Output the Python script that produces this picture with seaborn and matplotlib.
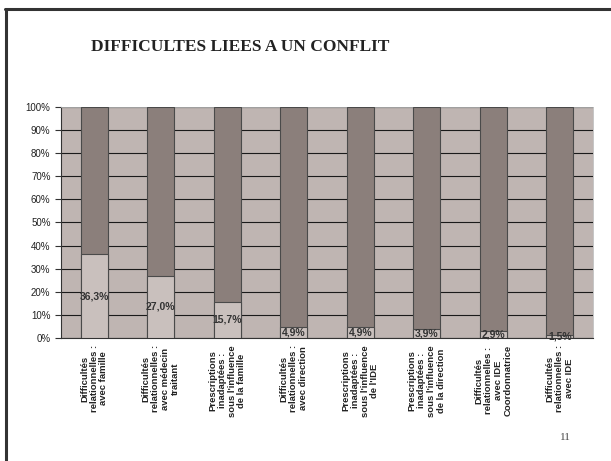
import numpy as np
import pandas as pd
import seaborn as sns
import matplotlib.pyplot as plt
from matplotlib.lines import Line2D
from matplotlib.ticker import MultipleLocator, FixedLocator

categories = [
    "Difficultés\nrelationnelles :\navec famille",
    "Difficultés\nrelationnelles :\navec médecin\ntraitant",
    "Prescriptions\ninadaptées :\nsous l'influence\nde la famille",
    "Difficultés\nrelationnelles :\navec direction",
    "Prescriptions\ninadaptées :\nsous l'influence\nde l'IDE",
    "Prescriptions\ninadaptées :\nsous l'influence\nde la direction",
    "Difficultés\nrelationnelles :\navec IDE\nCoordonnatrice",
    "Difficultés\nrelationnelles :\navec IDE",
]
values = [36.3, 27.0, 15.7, 4.9, 4.9, 3.9, 2.9, 1.5]
labels = ["36,3%", "27,0%", "15,7%", "4,9%", "4,9%", "3,9%", "2,9%", "1,5%"]

df = pd.DataFrame({"cat": categories, "val": values, "total": [100] * len(values)})

bg = "#bfb5b2"
light = "#c9c0bd"
dark = "#8b7f7b"

sns.set_style("white")
plt.rcParams["font.family"] = ["Liberation Sans", "DejaVu Sans"]

fig = plt.figure(figsize=(6.11, 4.61), dpi=100)
ax = fig.add_axes([0.0998, 0.2668, 0.8707, 0.5013])
ax.set_facecolor(bg)

# dark full-height bar, light share drawn over it
sns.barplot(data=df, x="cat", y="total", color=dark, width=0.4,
            edgecolor="#4a4a4a", linewidth=0.8, saturation=1, ax=ax, zorder=3)
sns.barplot(data=df, x="cat", y="val", color=light, width=0.4,
            edgecolor="#4a4a4a", linewidth=0.8, saturation=1, ax=ax, zorder=4)

ax.set_ylim(0, 100)
ax.set_xlim(-0.5, len(categories) - 0.5)
ax.yaxis.set_major_locator(MultipleLocator(10))
ax.set_yticklabels([f"{int(v)}%" for v in ax.get_yticks()], fontsize=7)
ax.yaxis.grid(True, color="#1a1a1a", linewidth=0.8, zorder=1)
ax.set_axisbelow(True)

ax.set_xticks(range(len(categories)))
ax.set_xticklabels(categories, rotation=90, fontsize=6.8, fontweight="bold",
                   color="#222222", multialignment="center", va="top", ha="center",
                   linespacing=1.1)
ax.xaxis.set_minor_locator(FixedLocator(np.arange(-0.5, len(categories), 1)))
ax.tick_params(axis="x", which="major", length=0, pad=5)
ax.tick_params(axis="x", which="minor", length=4, width=0.8, color="#333333", direction="out")
ax.tick_params(axis="y", length=4, width=0.8, color="#333333", direction="out",
               left=True, labelsize=7, labelcolor="#222222")
ax.set_xlabel("")
ax.set_ylabel("")

for s in ["top", "right"]:
    ax.spines[s].set_color("#bbbbbb")
    ax.spines[s].set_linewidth(0.6)
for s in ["left", "bottom"]:
    ax.spines[s].set_color("#333333")
    ax.spines[s].set_linewidth(0.8)

for i, (v, lab) in enumerate(zip(values, labels)):
    ax.text(i, v / 2, lab, ha="center", va="center", fontsize=7.5,
            fontweight="bold", color="#333333", zorder=6)

fig.text(0.393, 0.898, "DIFFICULTES LIEES A UN CONFLIT", ha="center", va="center",
         fontsize=12.5, fontweight="bold", family="Liberation Serif", color="#222222")
fig.text(0.925, 0.052, "11", ha="center", va="center", fontsize=8,
         family="Liberation Serif", color="#444444")

fig.add_artist(Line2D([0.0098, 0.0098], [0.0, 0.981], color="#333333", linewidth=2.2,
                      transform=fig.transFigure))
fig.add_artist(Line2D([0.0082, 1.0], [0.981, 0.981], color="#333333", linewidth=2.2,
                      transform=fig.transFigure))

fig.savefig("out.png", dpi=100)
